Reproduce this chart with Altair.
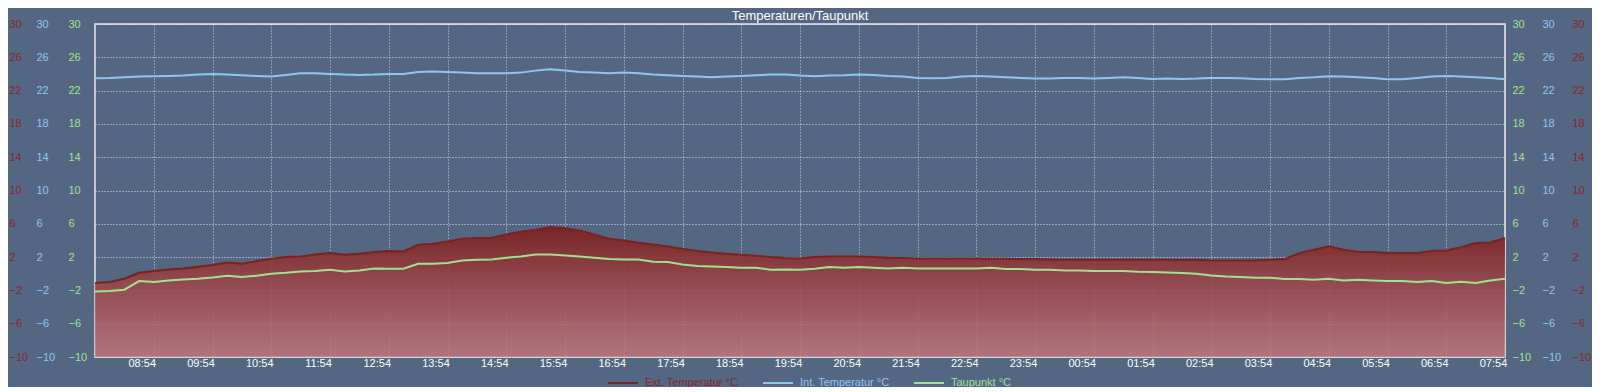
import json
import altair as alt
import pandas as pd

# ---------------- data ----------------
TIME_LABELS = ["08:54", "09:54", "10:54", "11:54", "12:54", "13:54", "14:54", "15:54",
               "16:54", "17:54", "18:54", "19:54", "20:54", "21:54", "22:54", "23:54",
               "00:54", "01:54", "02:54", "03:54", "04:54", "05:54", "06:54", "07:54"]
SERIES_NAMES = ["Ext. Temperatur °C", "Int. Temperatur °C", "Taupunkt °C"]
Y_TICKS = [-10, -6, -2, 2, 6, 10, 14, 18, 22, 26, 30]

# sample times: hours after 07:54, every 15 minutes
HOURS = [i * 0.25 for i in range(97)]

EXT_TEMP = [-1.12, -1.0, -0.6, 0.12, 0.32, 0.52, 0.64, 0.84, 1.04, 1.36, 1.2, 1.52, 1.8,
            2.0, 2.08, 2.32, 2.48, 2.28, 2.4, 2.6, 2.72, 2.68, 3.48, 3.6, 3.88,
            4.2, 4.28, 4.32, 4.72, 5.04, 5.28, 5.6, 5.48, 5.2, 4.72, 4.2, 4.0,
            3.72, 3.52, 3.28, 3.0, 2.72, 2.56, 2.4, 2.28, 2.16, 2.0, 1.88, 1.84,
            2.0, 2.08, 2.08, 2.08, 2.0, 1.92, 1.88, 1.84, 1.84, 1.84, 1.84, 1.84,
            1.8, 1.8, 1.76, 1.76, 1.72, 1.68, 1.68, 1.68, 1.68, 1.68, 1.68, 1.68,
            1.68, 1.64, 1.68, 1.6, 1.6, 1.6, 1.6, 1.68, 1.76, 2.48, 2.88, 3.3,
            2.88, 2.64, 2.6, 2.48, 2.48, 2.48, 2.72, 2.8, 3.2, 3.68, 3.76, 4.3]

INT_TEMP = [23.48, 23.52, 23.6, 23.68, 23.72, 23.76, 23.8, 23.92, 24.0, 23.92, 23.84, 23.76, 23.68,
            23.88, 24.08, 24.08, 24.0, 23.92, 23.88, 23.92, 24.0, 24.0, 24.24, 24.28, 24.24,
            24.16, 24.08, 24.08, 24.08, 24.16, 24.4, 24.56, 24.4, 24.24, 24.16, 24.08, 24.16,
            24.08, 23.92, 23.84, 23.76, 23.68, 23.6, 23.68, 23.76, 23.84, 23.92, 23.92, 23.8,
            23.72, 23.8, 23.84, 23.92, 23.88, 23.76, 23.68, 23.52, 23.48, 23.52, 23.68, 23.76,
            23.68, 23.6, 23.52, 23.44, 23.44, 23.52, 23.52, 23.44, 23.52, 23.6, 23.52, 23.4,
            23.44, 23.4, 23.44, 23.52, 23.52, 23.48, 23.4, 23.36, 23.36, 23.52, 23.6, 23.72,
            23.68, 23.6, 23.52, 23.36, 23.36, 23.52, 23.68, 23.76, 23.68, 23.6, 23.52, 23.36]

DEW_POINT = [-2.12, -2.08, -1.92, -0.88, -1.0, -0.8, -0.68, -0.6, -0.44, -0.24, -0.4, -0.24, 0.0,
             0.12, 0.28, 0.32, 0.48, 0.28, 0.4, 0.64, 0.6, 0.6, 1.2, 1.2, 1.28,
             1.6, 1.68, 1.72, 1.92, 2.08, 2.32, 2.32, 2.2, 2.08, 1.92, 1.76, 1.72,
             1.72, 1.44, 1.4, 1.12, 0.92, 0.88, 0.8, 0.72, 0.72, 0.48, 0.52, 0.48,
             0.6, 0.8, 0.72, 0.8, 0.72, 0.64, 0.72, 0.64, 0.64, 0.64, 0.64, 0.64,
             0.72, 0.56, 0.56, 0.48, 0.48, 0.4, 0.4, 0.32, 0.32, 0.32, 0.24, 0.2,
             0.16, 0.08, 0.0, -0.2, -0.32, -0.4, -0.48, -0.48, -0.64, -0.64, -0.72, -0.6,
             -0.8, -0.72, -0.8, -0.88, -0.88, -1.0, -0.88, -1.12, -0.96, -1.12, -0.8, -0.6]

df = pd.DataFrame({"h": HOURS, "ext": EXT_TEMP, "int": INT_TEMP, "tau": DEW_POINT})

# ---------------- styles ----------------
FONT = "Liberation Sans"
BG = "#536783"
RED = "#8a2626"
RED_LINE = "#7a2222"
BLUE = "#8fc6ef"
GREEN = "#9fe38f"
LINE_COLORS = [RED_LINE, BLUE, GREEN]

yscale = alt.Scale(domain=[-10, 30], nice=False, zero=False)
xscale = alt.Scale(domain=[0, 24], nice=False, zero=False)

x_axis = alt.Axis(values=list(range(1, 25)),
                  labelExpr=json.dumps(TIME_LABELS) + "[datum.value - 1]",
                  grid=True, gridColor="white", gridDash=[1, 2], gridOpacity=0.7, gridWidth=1,
                  ticks=False, tickSize=0, domain=False, title=None,
                  labelColor="white", labelFontSize=11, labelFont=FONT, labelPadding=0,
                  labelOffset=-12, labelFlush=False, labelOverlap=False)
X = alt.X("h:Q", scale=xscale, axis=x_axis)


def yaxis(orient, color, pad, grid=False):
    return alt.Axis(orient=orient, values=Y_TICKS, labelColor=color, labelPadding=pad,
                    labelAlign="left", labelBaseline="middle", ticks=False, tickSize=0,
                    domain=False, grid=grid, gridColor="white", gridDash=[1, 2],
                    gridOpacity=0.85, gridWidth=1, title=None, labelFontSize=11,
                    labelFont=FONT, labelFlush=False, labelOverlap=False)


gradient = alt.Gradient(
    gradient="linear",
    stops=[alt.GradientStop(color="rgba(122,33,33,0.95)", offset=0),
           alt.GradientStop(color="rgba(196,118,124,0.82)", offset=1)],
    x1=0, x2=0, y1=0, y2=1)

area = alt.Chart().mark_area(color=gradient).encode(
    x=X,
    y=alt.Y("ext:Q", scale=yscale, axis=yaxis("left", RED, 86, grid=True)),
    y2=alt.Y2Datum(-10),
)

color_scale = alt.Scale(domain=SERIES_NAMES, range=LINE_COLORS)
label_color_expr = ("datum.value == '%s' ? '%s' : datum.value == '%s' ? '%s' : '%s'"
                    % (SERIES_NAMES[0], RED, SERIES_NAMES[1], BLUE, GREEN))
legend = alt.Legend(orient="none", legendX=512, legendY=343, direction="horizontal",
                    title=None, symbolType="stroke", symbolSize=900, symbolStrokeWidth=2,
                    labelFontSize=11, labelFont=FONT, labelOffset=6, columnPadding=20,
                    padding=0, labelColor={"expr": label_color_expr})
COLOR = alt.Color("series:N", scale=color_scale, legend=legend)


def series_line(col, name, orient, color, pad):
    return alt.Chart().transform_calculate(series=json.dumps(name)).mark_line(strokeWidth=2).encode(
        x=X,
        y=alt.Y(col + ":Q", scale=yscale, axis=yaxis(orient, color, pad)),
        color=COLOR,
    )


ext_line = series_line("ext", SERIES_NAMES[0], "right", RED, 67)
int_line = series_line("int", SERIES_NAMES[1], "left", BLUE, 59)
tau_line = series_line("tau", SERIES_NAMES[2], "left", GREEN, 27)

int_right = alt.Chart().mark_line(opacity=0).encode(
    x=X,
    y=alt.Y("int:Q", scale=yscale, axis=yaxis("right", BLUE, 37)),
)

tau_right = alt.Chart().mark_line(opacity=0).encode(
    x=X,
    y=alt.Y("tau:Q", scale=yscale, axis=yaxis("right", GREEN, 7)),
)

chart = alt.layer(area, ext_line, int_line, tau_line, int_right, tau_right, data=df).resolve_scale(
    y="independent"
).properties(
    width=1410,
    height=333,
    autosize=alt.AutoSizeParams(type="none"),
    padding={"left": 87, "right": 87, "top": 16, "bottom": 30},
    title=alt.Title("Temperaturen/Taupunkt", color="white", fontSize=13, fontWeight="normal",
                    font=FONT, anchor="middle", frame="group", offset=5, dy=10),
).configure(
    background=BG,
).configure_view(
    stroke="#c3c8d0", strokeWidth=2,
)

chart.save("out.html", embed_options={"renderer": "svg", "actions": False})
